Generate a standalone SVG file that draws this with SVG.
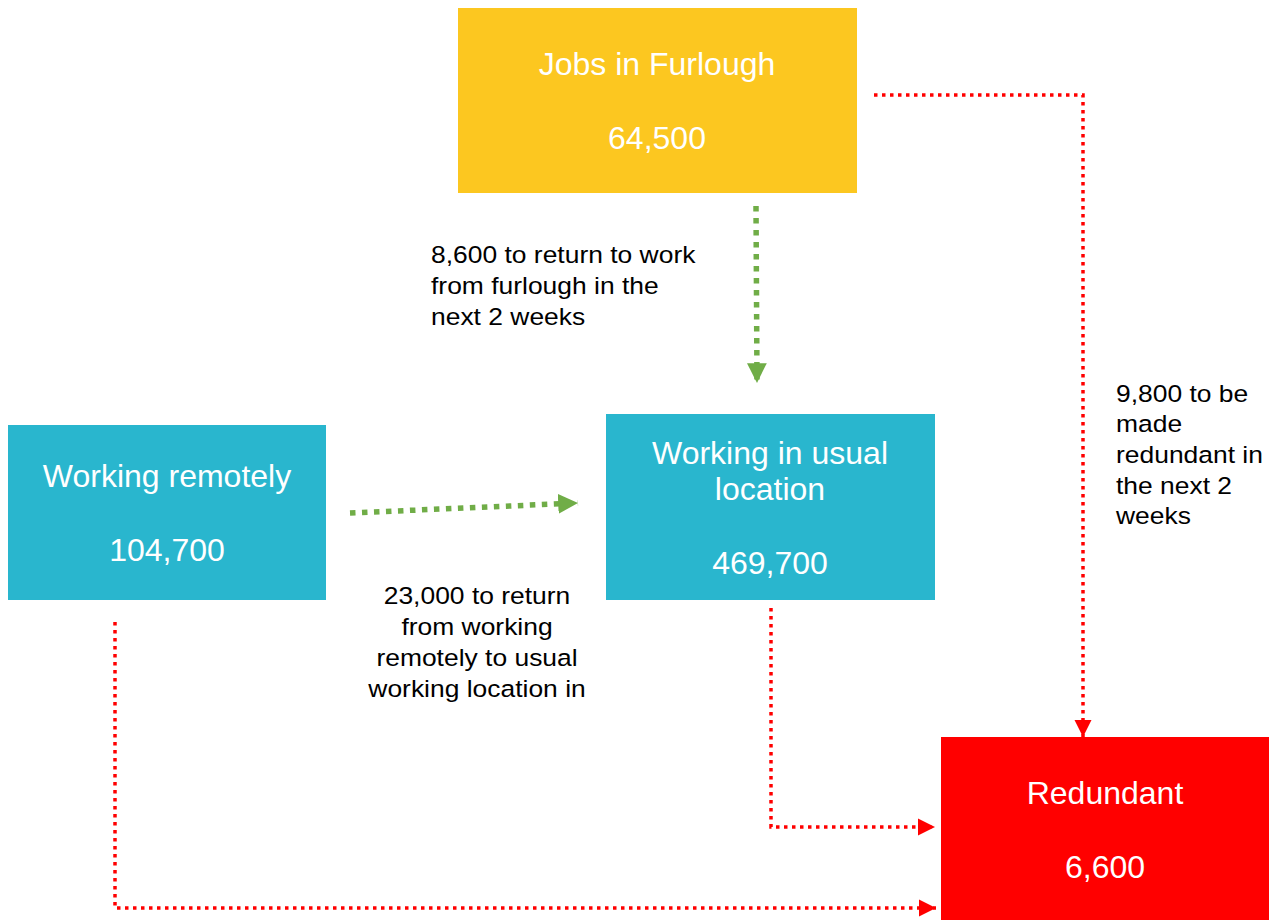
<svg xmlns="http://www.w3.org/2000/svg" width="1273" height="920" viewBox="0 0 1273 920">
<style>
.bt{font-family:"Liberation Sans",Arial,sans-serif;font-size:32px;fill:#fff;text-anchor:middle}
.lb{font-family:"Liberation Sans",Arial,sans-serif;font-size:23.5px;fill:#000}
.g{fill:none;stroke:#70AD47;stroke-width:5.5;stroke-dasharray:5.5 6.5}
.r{fill:none;stroke:#FF0000;stroke-width:3.5;stroke-dasharray:3.5 4.5}
</style>
<defs>
<marker id="ag" viewBox="0 0 10 10" refX="10" refY="5" markerWidth="3.6" markerHeight="3.6" markerUnits="strokeWidth" orient="auto"><path d="M0,0L10,5L0,10z" fill="#70AD47"/></marker>
<marker id="ar" viewBox="0 0 10 10" refX="10" refY="5" markerWidth="5" markerHeight="5" markerUnits="strokeWidth" orient="auto"><path d="M0,0L10,5L0,10z" fill="#FF0000"/></marker>
</defs>
<rect width="1273" height="920" fill="#fff"/>
<g id="furlough"><rect x="458" y="8" width="399" height="185" fill="#FCC720"/><text class="bt" x="657" y="75">Jobs in Furlough</text><text class="bt" x="657" y="149">64,500</text></g>
<g id="remote"><rect x="8" y="425" width="318" height="175" fill="#29B6CE"/><text class="bt" x="167" y="487">Working remotely</text><text class="bt" x="167" y="561">104,700</text></g>
<g id="usual"><rect x="606" y="414" width="329" height="186" fill="#29B6CE"/><text class="bt" x="770" y="464">Working in usual</text><text class="bt" x="770" y="500">location</text><text class="bt" x="770" y="574">469,700</text></g>
<g id="redundant"><rect x="941" y="737" width="328" height="183" fill="#FF0000"/><text class="bt" x="1105" y="804">Redundant</text><text class="bt" x="1105" y="878">6,600</text></g>
<g id="connectors">
<path class="g" d="M756,206L757,383" marker-end="url(#ag)"/>
<path class="g" d="M350,513L578,503" marker-end="url(#ag)"/>
<path class="r" d="M874,95H1083V737" marker-end="url(#ar)"/>
<path class="r" d="M771,608V827H935" marker-end="url(#ar)"/>
<path class="r" d="M115,622V908H936" marker-end="url(#ar)"/>
</g>
<g id="labels">
<g transform="translate(431,0) scale(1.125,1)"><text class="lb"><tspan x="0" y="263">8,600 to return to work</tspan><tspan x="0" y="294">from furlough in the</tspan><tspan x="0" y="325">next 2 weeks</tspan></text></g>
<g transform="translate(1116,0) scale(1.125,1)"><text class="lb"><tspan x="0" y="402">9,800 to be</tspan><tspan x="0" y="432">made</tspan><tspan x="0" y="463">redundant in</tspan><tspan x="0" y="494">the next 2</tspan><tspan x="0" y="524">weeks</tspan></text></g>
<g transform="translate(477,0) scale(1.125,1)"><text class="lb" text-anchor="middle"><tspan x="0" y="604">23,000 to return</tspan><tspan x="0" y="635">from working</tspan><tspan x="0" y="666">remotely to usual</tspan><tspan x="0" y="697">working location in</tspan></text></g>
</g>
</svg>
